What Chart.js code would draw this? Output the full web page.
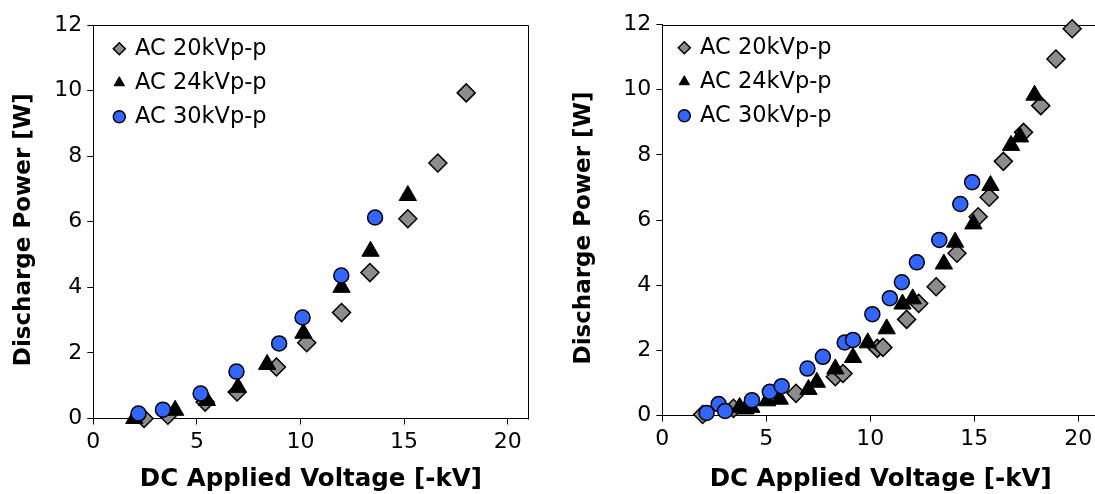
<!DOCTYPE html>
<html>
<head>
<meta charset="utf-8">
<script src="https://cdn.jsdelivr.net/npm/chart.js@4.4.0/dist/chart.umd.min.js"></script>
<style>
  html, body { margin: 0; padding: 0; background: #fff; overflow: hidden; width: 1095px; height: 494px; }
  canvas { position: absolute; top: 0; }
  #left { left: 0; }
  #right { left: 560px; }
</style>
</head>
<body>
<canvas id="left" width="540" height="494"></canvas>
<canvas id="right" width="550" height="494"></canvas>
<script>
const seriesNames = ["AC 20kVp-p", "AC 24kVp-p", "AC 30kVp-p"];

// left panel
const left20x = [2.45, 3.6, 5.4, 6.94, 8.84, 10.3, 11.98, 13.35, 15.18, 16.63, 18.0];
const left20y = [0.0, 0.1, 0.5, 0.81, 1.57, 2.31, 3.23, 4.45, 6.09, 7.79, 9.93];
const left24x = [1.98, 3.95, 5.48, 6.98, 8.39, 10.14, 11.98, 13.38, 15.18];
const left24y = [0.0, 0.25, 0.55, 0.95, 1.65, 2.6, 4.0, 5.1, 6.8];
const left30x = [2.18, 3.36, 5.18, 6.91, 8.97, 10.1, 11.97, 13.6];
const left30y = [0.15, 0.27, 0.76, 1.43, 2.29, 3.08, 4.36, 6.13];

// right panel
const right20x = [1.94, 3.42, 6.43, 8.32, 8.69, 10.34, 10.61, 11.75, 12.33, 13.17, 14.17, 15.19, 15.72, 16.4, 17.37, 18.2, 18.93, 19.71];
const right20y = [0.03, 0.22, 0.68, 1.19, 1.29, 2.06, 2.09, 2.95, 3.44, 3.95, 4.98, 6.1, 6.7, 7.8, 8.69, 9.51, 10.94, 11.87];
const right24x = [3.72, 4.0, 4.28, 5.04, 5.65, 7.03, 7.43, 8.32, 9.17, 9.88, 10.79, 11.55, 12.04, 13.54, 14.08, 14.96, 15.78, 16.77, 17.2, 17.9];
const right24y = [0.25, 0.2, 0.25, 0.45, 0.5, 0.8, 1.02, 1.43, 1.78, 2.23, 2.66, 3.42, 3.58, 4.65, 5.32, 5.88, 7.06, 8.29, 8.55, 9.83];
const right30x = [2.13, 2.71, 3.02, 4.31, 5.17, 5.74, 6.98, 7.72, 8.77, 9.17, 10.1, 10.94, 11.52, 12.24, 13.32, 14.33, 14.9];
const right30y = [0.08, 0.35, 0.14, 0.47, 0.73, 0.9, 1.44, 1.8, 2.24, 2.32, 3.11, 3.6, 4.09, 4.7, 5.39, 6.49, 7.16];

const xTitle = "DC Applied Voltage [-kV]";
const yTitle = "Discharge Power [W]";
const xMin = 0, xMax = 21, xStep = 5;
const yMin = 0, yMax = 12, yStep = 2;

const FONT = "Verdana, 'DejaVu Sans', sans-serif";

function pts(xs, ys) {
  return xs.map((x, i) => ({ x: x, y: ys[i] }));
}

// box around the plot area (top + right edges like excel)
const framePlugin = {
  id: "frame",
  beforeDatasetsDraw(chart) {
    const a = chart.chartArea;
    const ctx = chart.ctx;
    const l = Math.round(a.left) + 0.5, t = Math.round(a.top) + 0.5;
    const r = Math.round(a.right) + 0.5, b = Math.round(a.bottom) + 0.5;
    ctx.save();
    ctx.strokeStyle = "#000";
    ctx.lineWidth = 1;
    ctx.beginPath();
    ctx.moveTo(l, t);
    ctx.lineTo(r, t);
    ctx.lineTo(r, b);
    ctx.stroke();
    ctx.restore();
  },
};

// move the legend inside the plot, near the top-left corner
function legendPlace(dx, dy) {
  return {
    id: "legendPlace",
    afterLayout(chart) {
      const lg = chart.legend;
      const w = lg.right - lg.left, h = lg.bottom - lg.top;
      lg.left = chart.chartArea.left + dx;
      lg.top = chart.chartArea.top + dy;
      lg.right = lg.left + w;
      lg.bottom = lg.top + h;
    },
  };
}

function makeChart(id, d20, d24, d30, yAxisWidth, xAxisHeight, padTop, padRight, lx, ly) {
  return new Chart(document.getElementById(id), {
    type: "scatter",
    data: {
      datasets: [
        {
          label: seriesNames[0],
          data: d20,
          pointStyle: "rectRot",
          pointRadius: 9,
          pointHoverRadius: 9,
          backgroundColor: "#8c8c8c",
          borderColor: "#000",
          borderWidth: 1.5,
          order: 2,
          clip: false,
        },
        {
          label: seriesNames[1],
          data: d24,
          pointStyle: "triangle",
          pointRadius: 10,
          pointHoverRadius: 10,
          backgroundColor: "#000",
          borderColor: "#000",
          borderWidth: 1,
          order: 1,
          clip: false,
        },
        {
          label: seriesNames[2],
          data: d30,
          pointStyle: "circle",
          pointRadius: 7.5,
          pointHoverRadius: 7.5,
          backgroundColor: "#3366ff",
          borderColor: "#000",
          borderWidth: 1.5,
          order: 0,
          clip: false,
        },
      ],
    },
    options: {
      responsive: false,
      animation: false,
      devicePixelRatio: 1,
      layout: {
        padding: { top: padTop, right: padRight, left: 0, bottom: 0 },
      },
      plugins: {
        tooltip: { enabled: false },
        legend: {
          position: "chartArea",
          align: "start",
          labels: {
            usePointStyle: true,
            boxWidth: 9,
            boxHeight: 8.5,
            padding: 11.5,
            color: "#000",
            font: { family: FONT, size: 22.5, lineHeight: 1 },
            sort: (a, b) => a.datasetIndex - b.datasetIndex,
          },
        },
      },
      scales: {
        x: {
          type: "linear",
          min: xMin,
          max: xMax,
          afterFit: (scale) => { scale.height = xAxisHeight; },
          ticks: {
            stepSize: xStep,
            includeBounds: false,
            color: "#000",
            padding: 5,
            maxRotation: 0,
            font: { family: FONT, size: 22 },
          },
          grid: { drawOnChartArea: false, drawTicks: true, tickLength: 6, color: "#000" },
          border: { display: true, color: "#000", width: 1 },
          title: {
            display: true,
            text: xTitle,
            color: "#000",
            font: { family: FONT, size: 24.5, weight: "bold" },
            padding: { top: 0, bottom: 0 },
          },
        },
        y: {
          type: "linear",
          min: yMin,
          max: yMax,
          afterFit: (scale) => { scale.width = yAxisWidth; },
          ticks: {
            stepSize: yStep,
            color: "#000",
            padding: 5,
            font: { family: FONT, size: 22 },
          },
          grid: { drawOnChartArea: false, drawTicks: true, tickLength: 6, color: "#000" },
          border: { display: true, color: "#000", width: 1 },
          title: {
            display: true,
            // trailing spaces nudge the rotated title a little lower, as in the original
            text: yTitle + "  ",
            color: "#000",
            font: { family: FONT, size: 23, weight: "bold" },
            padding: { top: 10, bottom: 0 },
          },
        },
      },
    },
    plugins: [framePlugin, legendPlace(lx, ly)],
  });
}

makeChart("left",
  pts(left20x, left20y), pts(left24x, left24y), pts(left30x, left30y),
  93.3, 494 - 418.5, 25, 540 - 528.4, 10, 1);

makeChart("right",
  pts(right20x, right20y), pts(right24x, right24y), pts(right30x, right30y),
  102.3, 494 - 415.5, 24.5, 550 - (560 + 102.3 + 21 * 21.02 - 560), 6, 0.5);
</script>
</body>
</html>
